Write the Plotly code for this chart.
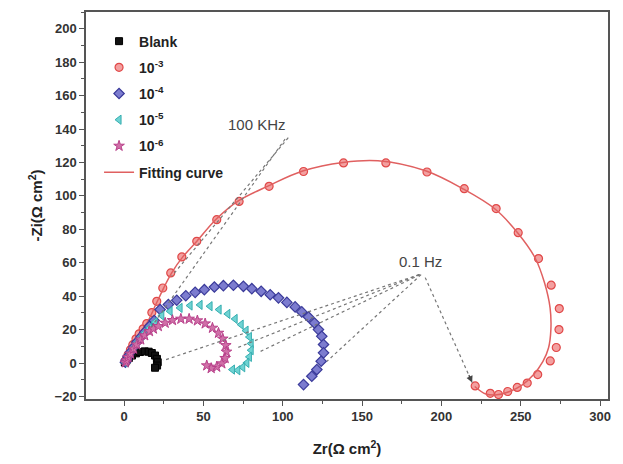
import plotly.graph_objects as go

# ---------------- data ----------------
blank_x = [0.5, 1.5, 3, 5, 7.5, 10, 13, 15.5, 17.5, 19.5, 20.7, 21.2, 20.8, 19.5]
blank_y = [0.3, 1.5, 3, 4.5, 5.8, 6.6, 7.0, 6.8, 6.0, 4.5, 2.5, 0.5, -1.5, -2.8]

r3_x = [0.8, 1.5, 2.5, 4, 5.5, 7.5, 9.5, 12, 14.3, 17.5, 20.6, 24.4, 29.4, 36.4, 45.8, 58.4,
        72.5, 91.4, 113.1, 138.3, 165.0, 190.9, 214.4, 234.5, 248.4, 261.2, 269.2, 274.3,
        274.1, 272.4, 268.6, 260.7, 254.1, 247.8, 241.8, 236.0, 230.8, 221.3]
r3_y = [0.5, 2.5, 5, 8, 11, 14.5, 17.5, 20.5, 23.6, 30.2, 36.9, 44.9, 53.9, 63.5, 72.8, 85.8,
        96.7, 105.7, 114.6, 119.7, 119.7, 114.3, 104.3, 92.4, 78.0, 62.5, 46.6, 32.6,
        20.0, 9.3, 1.3, -6.9, -12.0, -14.6, -17.0, -18.8, -18.1, -13.7]

r4_x = [0.8, 1.5, 2.5, 4, 6, 8, 10.5, 13, 16, 19, 22.7, 27.9, 33.2, 38.9, 44.8, 50.6, 56.9,
        62.6, 68.9, 75.2, 80.5, 86.4, 92.1, 97.3, 102.6, 107.8, 112.0, 116.2, 120.0, 122.5,
        124.6, 125.7, 125.7, 124.2, 121.5, 118.3, 113.1]
r4_y = [0.5, 2, 4, 6.5, 9.5, 12.5, 15.5, 18.5, 22, 25.5, 32.0, 35.0, 37.6, 40.3, 42.3, 43.9,
        45.5, 46.3, 46.5, 45.9, 44.5, 42.9, 40.9, 39.0, 36.3, 33.6, 30.6, 27.6, 24.0, 20.0,
        16.0, 11.1, 6.1, 1.1, -3.9, -7.9, -12.9]

r5_x = [0.8, 1.5, 2.5, 4, 6, 8, 10.5, 13, 16, 19.5, 23.8, 29.0, 35.3, 41.6, 47.9, 54.2, 59.9,
        65.4, 70.0, 73.8, 76.9, 79.0, 80.1, 80.1, 79.0, 77.4, 74.8, 71.7, 68.3]
r5_y = [0.4, 1.8, 3.8, 6, 9, 12, 15, 18, 21, 24.5, 28.4, 31.0, 33.0, 34.4, 34.8, 34.0, 32.0,
        29.4, 26.4, 23.0, 19.4, 15.6, 11.7, 7.7, 3.7, 0.1, -2.5, -4.3, -3.9]

r6_x = [0.8, 1.5, 2.5, 4, 6, 8, 10.5, 13, 16, 18.5, 21.6, 25.9, 30.5, 35.8, 41.0, 46.2, 51.1,
        55.7, 59.5, 62.2, 64.1, 64.5, 63.7, 61.6, 58.4, 54.9, 52.1]
r6_y = [0.3, 1.5, 3.5, 5.5, 8.5, 11, 14, 16.5, 19, 20.5, 22.0, 24.0, 25.6, 26.4, 26.4, 25.4,
        23.6, 21.0, 18.0, 14.5, 10.6, 6.7, 2.9, -0.3, -2.3, -3.1, -1.5]

fit_x = [0, 5, 10, 15, 20, 25, 30, 37, 46, 58, 72, 91, 113, 138, 160, 190, 214, 234, 248,
         259, 265, 268.5, 269, 267.5, 264, 258, 251, 243, 235, 228, 221]
fit_y = [0, 10, 18, 25, 35, 45, 54, 63.5, 73, 86, 97, 106, 115, 120, 121, 115, 104, 92, 78,
         63, 48, 33, 20, 9, 1, -7, -13, -17, -19, -18.5, -14]

ann_100k = dict(text="100 KHz", x=84, y=143)
ann_01 = dict(text="0.1 Hz", x=186.6, y=60.7)
# dotted guide lines (start, end) in data units
lines_100k = [((101.5, 134.0), (16.0, 20.0)), ((103.5, 134.8), (30.0, 52.0))]
lines_01 = [((186.0, 52.9), (24.6, 1.5)), ((186.0, 52.9), (71.0, 9.0)),
            ((186.6, 52.9), (84.5, 6.3)), ((187.2, 52.9), (127.8, 1.0))]
arrow_01 = ((189.8, 51.1), (219.4, -11.7))

FONT = "Liberation Sans, Arial, sans-serif"

fig = go.Figure()

fig.add_trace(go.Scatter(x=blank_x, y=blank_y, mode="markers", name="<b>Blank</b>",
                         legendgroup="a", legendrank=1,
                         marker=dict(symbol="square", size=7, color="#111111",
                                     line=dict(color="#000000", width=1))))
fig.add_trace(go.Scatter(x=r3_x, y=r3_y, mode="markers", name="<b>10<sup>-3</sup></b>",
                         legendgroup="b", legendrank=2,
                         marker=dict(symbol="circle", size=8, color="#F3A0A0",
                                     line=dict(color="#E04848", width=1.2))))
fig.add_trace(go.Scatter(x=fit_x, y=fit_y, mode="lines", name="<b>Fitting curve</b>",
                         legendgroup="f", legendrank=6, line_shape="spline",
                         line=dict(color="#E06060", width=1.5)))
fig.add_trace(go.Scatter(x=r4_x, y=r4_y, mode="markers", name="<b>10<sup>-4</sup></b>",
                         legendgroup="c", legendrank=3,
                         marker=dict(symbol="diamond", size=8, color="#7C7CCF",
                                     line=dict(color="#3A3A9A", width=1.2))))
fig.add_trace(go.Scatter(x=r5_x, y=r5_y, mode="markers", name="<b>10<sup>-5</sup></b>",
                         legendgroup="d", legendrank=4,
                         marker=dict(symbol="triangle-left", size=8, color="#6FD3D3",
                                     line=dict(color="#35AEB0", width=1))))
fig.add_trace(go.Scatter(x=r6_x, y=r6_y, mode="markers", name="<b>10<sup>-6</sup></b>",
                         legendgroup="e", legendrank=5,
                         marker=dict(symbol="star", size=8, color="#D070A8",
                                     line=dict(color="#B8408A", width=1))))

shapes = []
for (x0, y0), (x1, y1) in lines_100k + lines_01 + [arrow_01]:
    shapes.append(dict(type="line", xref="x", yref="y", x0=x0, y0=y0, x1=x1, y1=y1,
                       line=dict(color="#777777", width=1.2, dash="dot")))

annotations = []
for a in (ann_100k, ann_01):
    annotations.append(dict(text=a["text"], x=a["x"], y=a["y"], xref="x", yref="y",
                            showarrow=False, font=dict(family=FONT, size=15, color="#444444")))
annotations.append(dict(text="", x=arrow_01[1][0], y=arrow_01[1][1], xref="x", yref="y",
                        showarrow=True, ax=-4, ay=-9, arrowhead=2, arrowsize=1,
                        arrowwidth=1.3, arrowcolor="#444444"))

axis_common = dict(showgrid=False, zeroline=False, showline=True, linecolor="#555555",
                   linewidth=1.5, mirror=True, ticks="outside", ticklen=5, tickwidth=1.2,
                   tickcolor="#555555", automargin=False,
                   tickfont=dict(family=FONT, size=13, color="#333333", weight="bold"))

# the page adds an 8 px body margin, so the figure is sized to fit inside it
fig.update_layout(
    width=615, height=456,
    margin=dict(l=78, r=15, t=4, b=65),
    paper_bgcolor="white", plot_bgcolor="white",
    shapes=shapes, annotations=annotations,
    legend=dict(x=0.025, y=0.965, xanchor="left", yanchor="top",
                bgcolor="rgba(0,0,0,0)", tracegroupgap=5,
                font=dict(family=FONT, size=14, color="#222222")),
    xaxis=dict(range=[-24, 305], tickmode="array", tickvals=[0, 50, 100, 150, 200, 250, 300],
               minor=dict(ticks="outside", ticklen=3, tickcolor="#555555", dtick=25,
                          tick0=0),
               title=dict(text="<b>Zr(Ω cm<sup>2</sup>)</b>", standoff=20,
                          font=dict(family=FONT, size=15, color="#222222")),
               **axis_common),
    yaxis=dict(range=[-21.5, 210], tickmode="array",
               tickvals=[-20, 0, 20, 40, 60, 80, 100, 120, 140, 160, 180, 200],
               minor=dict(ticks="outside", ticklen=3, tickcolor="#555555", dtick=10,
                          tick0=0),
               title=dict(text="<b>-Zi(Ω cm<sup>2</sup>)</b>", standoff=8,
                          font=dict(family=FONT, size=15, color="#222222")),
               **axis_common),
)

fig.write_html("out.html")
